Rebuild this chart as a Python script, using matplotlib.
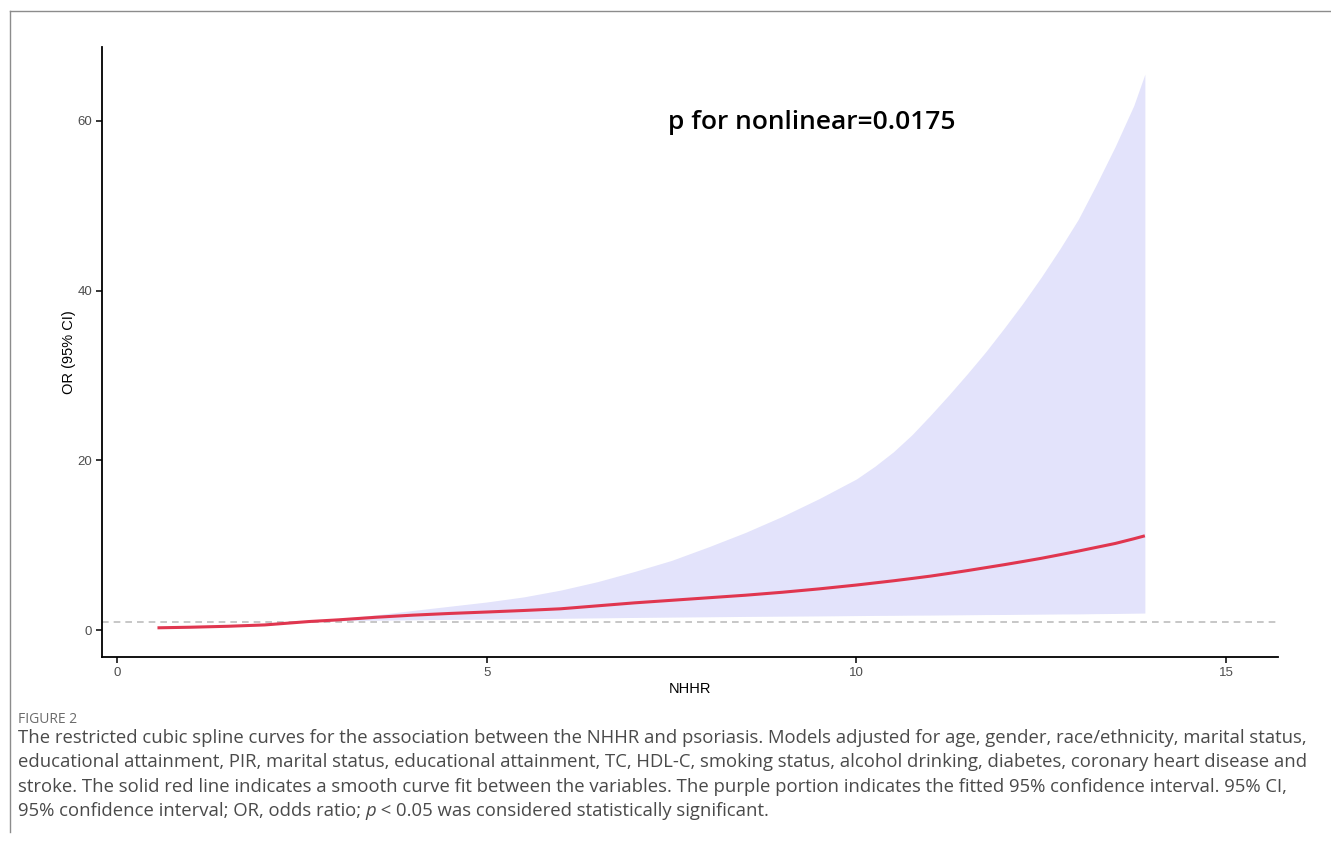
import matplotlib
matplotlib.use("Agg")
import matplotlib.pyplot as plt
from matplotlib.lines import Line2D

# NHHR grid and spline estimates (OR with 95% CI)
nhhr = [0.55, 1.0, 1.5, 2.0, 2.6, 3.0, 3.5, 4.0, 4.5, 5.0, 5.5, 6.0, 6.5, 7.0,
        7.5, 8.0, 8.5, 9.0, 9.5, 10.0, 10.25, 10.5, 10.75, 11.0, 11.25, 11.5, 11.75,
        12.0, 12.25, 12.5, 12.75, 13.0, 13.25, 13.5, 13.75, 13.9]
or_fit = [0.26, 0.33, 0.44, 0.6, 1.0, 1.2, 1.5, 1.75, 1.95, 2.12, 2.3, 2.5, 2.85, 3.2,
          3.5, 3.8, 4.1, 4.45, 4.85, 5.3, 5.55, 5.8, 6.07, 6.35, 6.67, 7.0, 7.35,
          7.7, 8.07, 8.45, 8.87, 9.3, 9.75, 10.2, 10.75, 11.1]
ci_upper = [0.36, 0.42, 0.52, 0.68, 1.0, 1.35, 1.78, 2.3, 2.8, 3.3, 3.9, 4.7, 5.7, 6.9,
            8.2, 9.8, 11.5, 13.4, 15.5, 17.8, 19.3, 21.0, 23.0, 25.3, 27.7, 30.2, 32.8,
            35.6, 38.5, 41.6, 44.9, 48.4, 52.6, 57.0, 61.8, 65.5]
ci_lower = [0.18, 0.26, 0.38, 0.55, 1.0, 1.08, 1.15, 1.2, 1.25, 1.28, 1.33, 1.38, 1.43, 1.48,
            1.52, 1.56, 1.6, 1.63, 1.66, 1.7, 1.72, 1.73, 1.75, 1.76, 1.78, 1.8, 1.82,
            1.83, 1.85, 1.87, 1.89, 1.9, 1.93, 1.95, 1.98, 2.0]

x_ticks = [0, 5, 10, 15]
y_ticks = [0, 20, 40, 60]
p_text = "p for nonlinear=0.0175"

caption_title = "FIGURE 2"
caption_lines = [
    "The restricted cubic spline curves for the association between the NHHR and psoriasis. Models adjusted for age, gender, race/ethnicity, marital status,",
    "educational attainment, PIR, marital status, educational attainment, TC, HDL-C, smoking status, alcohol drinking, diabetes, coronary heart disease and",
    "stroke. The solid red line indicates a smooth curve fit between the variables. The purple portion indicates the fitted 95% confidence interval. 95% CI,",
]
caption_last = ["95% confidence interval; OR, odds ratio; ", "p", " < 0.05 was considered statistically significant."]

W, H = 1331, 847
fig = plt.figure(figsize=(W / 100, H / 100), dpi=100)
fig.patch.set_facecolor("white")
renderer = fig.canvas.get_renderer()

# thin frame around the figure panel
fig.add_artist(Line2D([10 / W, 1.0], [1 - 11 / H, 1 - 11 / H], color="#8c8c8c", lw=1.0))
fig.add_artist(Line2D([10 / W, 10 / W], [1 - 11 / H, 1 - 832 / H], color="#8c8c8c", lw=1.0))

ax = fig.add_axes([102 / W, 1 - 657 / H, (1278 - 102) / W, (657 - 47) / H])

ax.fill_between(nhhr, ci_lower, ci_upper, color="#e3e3fb", lw=0, zorder=1)
ax.axhline(1, color="#bdbdbd", lw=1.2, ls=(0, (4, 3)), zorder=2)
ax.plot(nhhr, or_fit, color="#e0364f", lw=2.2, zorder=3, solid_capstyle="butt")

ax.set_xlim(-0.2, 15.7)
ax.set_ylim(-3.18, 68.7)
ax.set_xticks(x_ticks)
ax.set_yticks(y_ticks)

axis_font = "Liberation Sans"
for s in ["top", "right"]:
    ax.spines[s].set_visible(False)
for s in ["left", "bottom"]:
    ax.spines[s].set_linewidth(1.3)
    ax.spines[s].set_color("black")
ax.tick_params(direction="out", length=4, width=1.1, color="black",
               labelcolor="#4d4d4d", labelsize=9.5, pad=3)
for lab in ax.get_xticklabels() + ax.get_yticklabels():
    lab.set_family(axis_font)

ax.set_xlabel("NHHR", fontsize=10.5, color="black", labelpad=2, family=axis_font)
ax.set_ylabel("OR (95% CI)", fontsize=10.5, color="black", labelpad=1, family=axis_font)

ax.text(7.45, 59.8, p_text, ha="left", va="center", fontsize=19,
        family="Open Sans", weight="semibold", color="black")

# caption below the chart; font size fitted so the first line spans the panel
cap_font = "Open Sans"
probe = fig.text(0, 0, caption_lines[0], fontsize=12, family=cap_font)
cap_size = 12 * 1282 / probe.get_window_extent(renderer=renderer).width
probe.remove()

fig.text(18 / W, 1 - 719 / H, caption_title, fontsize=10, color="#6b6b6b",
         family=cap_font, va="center")
y0 = 738
for i, line in enumerate(caption_lines):
    fig.text(18 / W, 1 - (y0 + i * 24.4) / H, line, fontsize=cap_size, color="#4a4a4a",
             family=cap_font, va="center")

# last caption line with italic p
x_px = 18
y_last = 1 - (y0 + 3 * 24.4) / H
for j, part in enumerate(caption_last):
    t = fig.text(x_px / W, y_last, part, fontsize=cap_size, color="#4a4a4a", family=cap_font,
                 va="center", style="italic" if j == 1 else "normal")
    x_px += t.get_window_extent(renderer=renderer).width

fig.savefig("out.png", dpi=100)
